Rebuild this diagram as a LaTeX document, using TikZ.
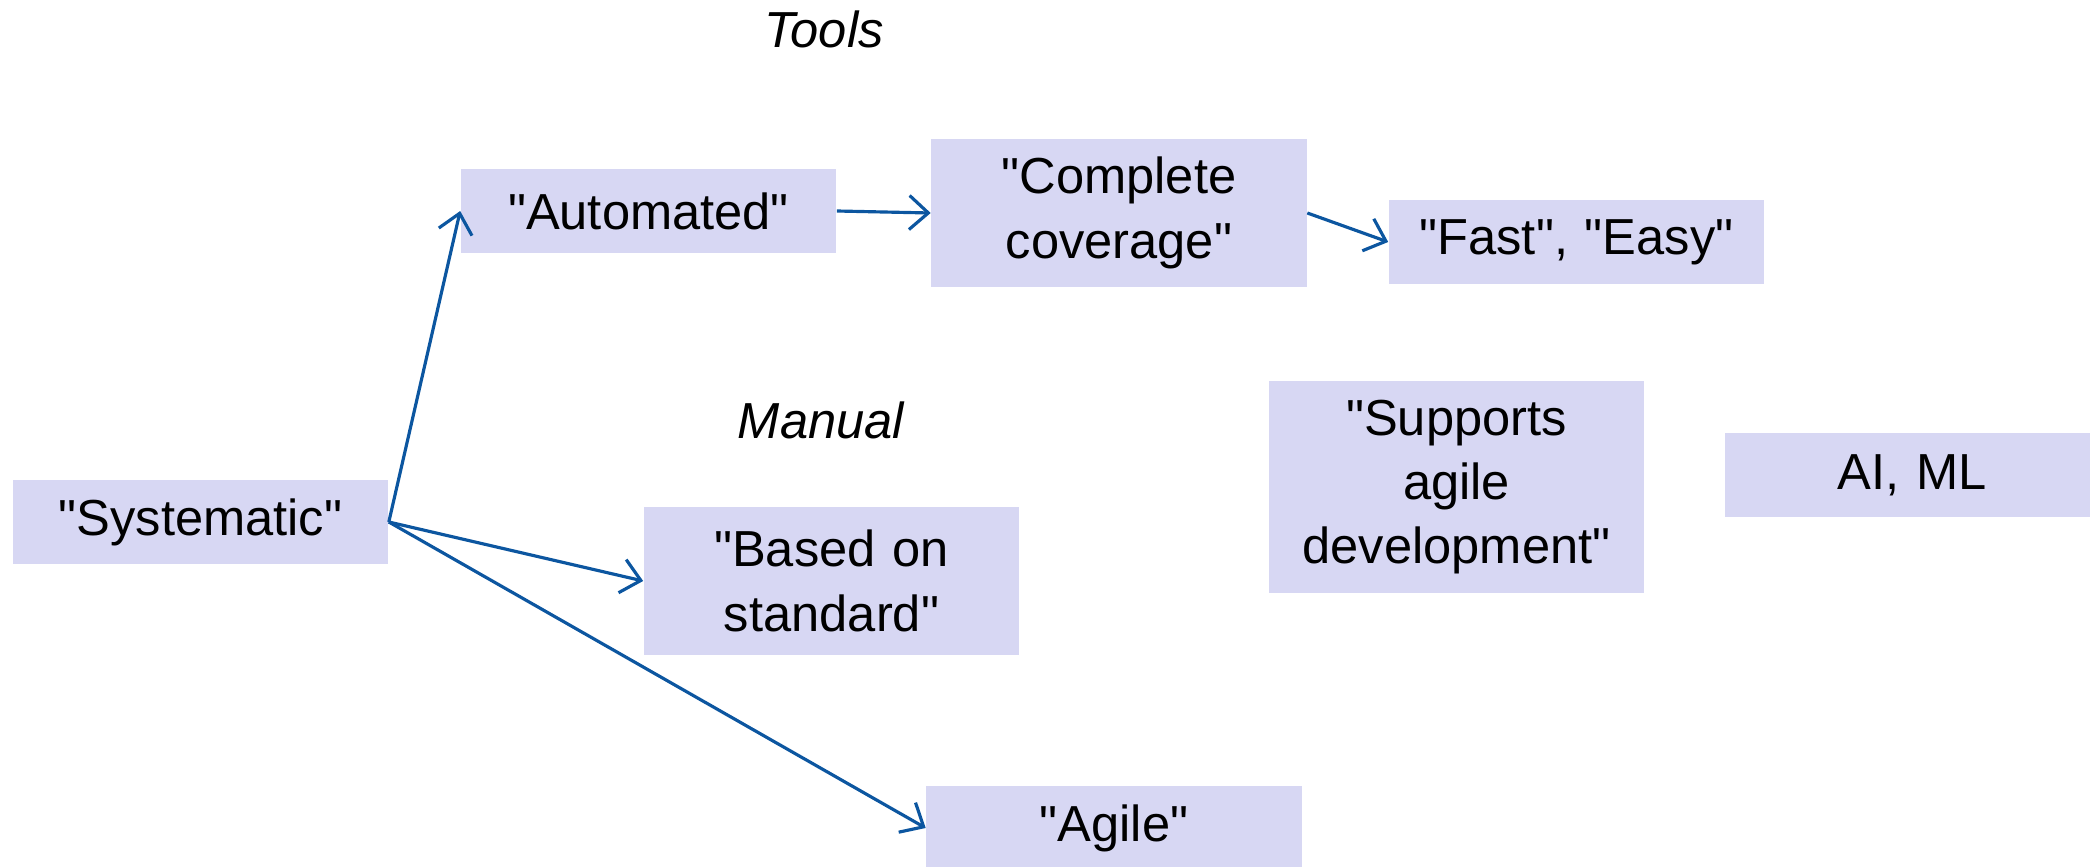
\documentclass[tikz,border=0pt]{standalone}
\usepackage{fontspec}
\setmainfont{Liberation Sans}
\usetikzlibrary{arrows.meta}
\definecolor{boxfill}{RGB}{215,215,243}
\definecolor{arrowblue}{RGB}{12,86,160}
\newcommand{\qt}[1]{\textquotedbl#1\textquotedbl}
\begin{document}
\begin{tikzpicture}[x=0.01cm, y=-0.01cm,
  idea/.style={fill=boxfill, inner sep=0pt, text width=3.75cm, align=center,
    minimum height=0.83cm, font=\fontsize{14.4}{18.3}\selectfont},
  lbl/.style={font=\fontsize{14.4}{18.3}\selectfont\itshape},
  link/.style={draw=arrowblue, line width=0.9pt, -{Straight Barb[length=1.9mm,width=3.4mm]}}]
\useasboundingbox (0,0) rectangle (2090,867);
\node[lbl] (tools) at (824,29){Tools};
\node[lbl] (manual) at (821,420){Manual};
\node[idea] (sys) at (200.5,522){\qt{Systematic}};
\node[idea] (auto) at (648.5,211){\qt{Automated}};
\node[idea, minimum height=1.48cm] (cov) at (1119,213){\qt{Complete\\coverage}};
\node[idea] (fast) at (1576.5,242){\qt{Fast}, \qt{Easy}};
\node[idea, minimum height=1.48cm] (base) at (831.5,581){\qt{Based on\\standard}};
\node[idea] (agile) at (1114,828){\qt{Agile}};
\node[idea, minimum height=2.12cm] (supp) at (1456.5,487){\qt{Supports\\agile\\development}};
\node[idea] (aiml) at (1912.5,475){AI, ML};
\draw[link](sys.east) -- (auto.west);
\draw[link](sys.east) -- (base.west);
\draw[link](sys.east) -- (agile.west);
\draw[link](auto.east) -- (cov.west);
\draw[link](cov.east) -- (fast.west);
\end{tikzpicture}
\end{document}
